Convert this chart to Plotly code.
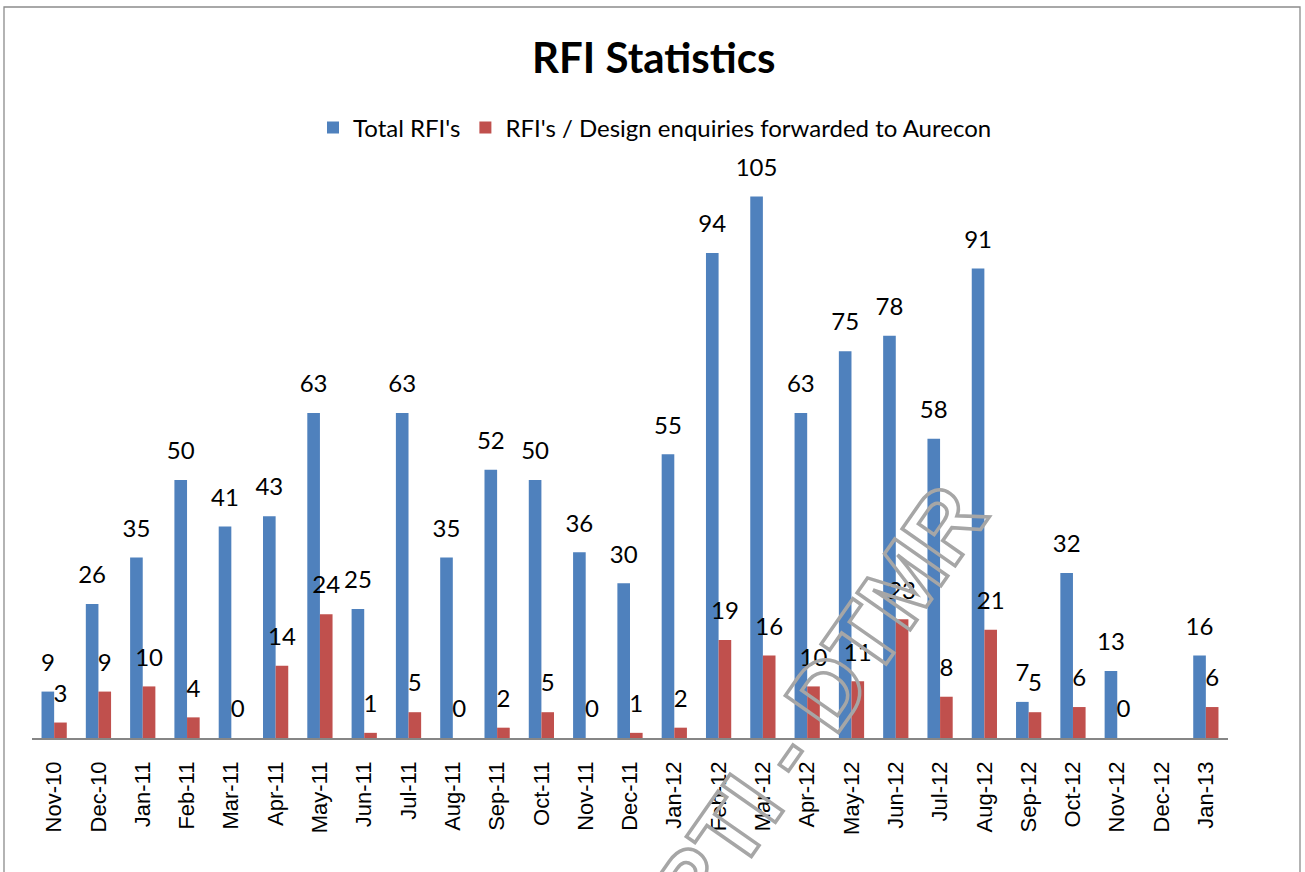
import plotly.graph_objects as go

months = ["Nov-10", "Dec-10", "Jan-11", "Feb-11", "Mar-11", "Apr-11", "May-11",
          "Jun-11", "Jul-11", "Aug-11", "Sep-11", "Oct-11", "Nov-11", "Dec-11",
          "Jan-12", "Feb-12", "Mar-12", "Apr-12", "May-12", "Jun-12", "Jul-12",
          "Aug-12", "Sep-12", "Oct-12", "Nov-12", "Dec-12", "Jan-13"]
total_rfis = [9, 26, 35, 50, 41, 43, 63, 25, 63, 35, 52, 50, 36, 30,
              55, 94, 105, 63, 75, 78, 58, 91, 7, 32, 13, None, 16]
forwarded = [3, 9, 10, 4, 0, 14, 24, 1, 5, 0, 2, 5, 0, 1,
             2, 19, 16, 10, 11, 23, 8, 21, 5, 6, 0, None, 6]

BLUE = "#4F81BD"
RED = "#C0504D"
LABEL_FONT = dict(family="Lato, Calibri, sans-serif", size=24, color="#000000")

W, H = 1305, 872
L, R, T, B = 32, 77, 119, 134
pw, ph = W - L - R, H - T - B


def px_x(x):
    return (x - L) / pw


def px_y(y):
    return (H - B - y) / ph


fig = go.Figure()
series = [("Total RFI's", total_rfis, BLUE),
          ("RFI's / Design enquiries forwarded to Aurecon", forwarded, RED)]
for name, vals, col in series:
    fig.add_trace(go.Bar(x=months, y=vals, name=name, marker_color=col,
                         marker_line_width=0))
# value labels, grouped the same way as the bars
for name, vals, col in series:
    fig.add_trace(go.Scatter(
        x=months, y=vals, mode="markers+text", showlegend=False,
        text=["" if v is None else str(v) for v in vals],
        textposition="top center", textfont=LABEL_FONT,
        marker=dict(size=22, opacity=0), hoverinfo="skip"))

# chart-area frame
fig.add_shape(type="rect", xref="paper", yref="paper",
              x0=px_x(4), x1=px_x(1300), y0=px_y(900), y1=px_y(7),
              line=dict(color="#8c8c8c", width=1.3), fillcolor="rgba(0,0,0,0)",
              layer="below")

# outlined stamp, running off the bottom edge of the chart area
fig.add_annotation(
    xref="paper", yref="paper", x=px_x(818), y=px_y(704),
    xanchor="center", yanchor="middle",
    text='<span style="fill:none;stroke:#a6a6a6;stroke-width:3.5px">RTI - DTMR</span>',
    showarrow=False, textangle=-55,
    font=dict(family="Liberation Sans, Arial, sans-serif", size=94,
              color="#a6a6a6", weight="bold"))

fig.update_layout(
    width=W, height=H,
    margin=dict(l=L, r=R, t=T, b=B),
    paper_bgcolor="white", plot_bgcolor="white",
    barmode="group", bargap=0.43, bargroupgap=0,
    scattermode="group", scattergap=0.43,
    title=dict(text="<b>RFI Statistics</b>", x=0.501, xref="container",
               xanchor="center", y=1 - 58 / H, yref="container", yanchor="middle",
               font=dict(family="Lato, Calibri, sans-serif", size=42, color="#000000")),
    legend=dict(orientation="h", x=px_x(655), xanchor="center", y=px_y(128),
                yanchor="middle", font=LABEL_FONT, bgcolor="rgba(0,0,0,0)",
                traceorder="normal"),
    xaxis=dict(type="category", tickangle=-90, showgrid=False,
               showline=True, linecolor="#868686", linewidth=1.5,
               ticks="", ticklabelstandoff=13,
               tickfont=dict(family="Liberation Sans, Arial, sans-serif",
                             size=22, color="#000000")),
    yaxis=dict(range=[0, 120], visible=False, showgrid=False, zeroline=False),
    showlegend=True,
)

fig.write_html("out.html")
